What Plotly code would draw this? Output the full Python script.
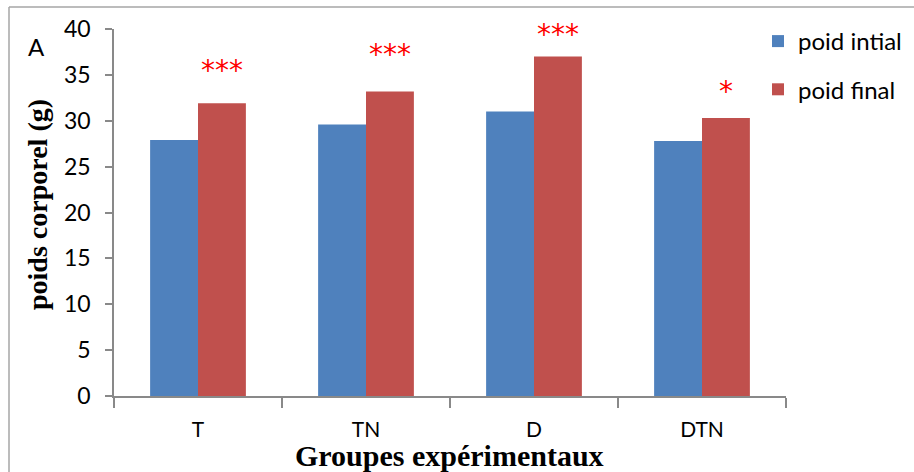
import plotly.graph_objects as go

groups = ["T", "TN", "D", "DTN"]
poid_initial = [27.9, 29.6, 31.0, 27.8]
poid_final = [31.9, 33.2, 37.0, 30.3]
signif = ["***", "***", "***", "*"]
star_gap_px = [37, 41, 27, 31]   # glyph centre above the final bar, in px

blue = "#4F81BD"
red = "#C0504D"
axis_grey = "#898989"

fig = go.Figure()
fig.add_trace(go.Bar(x=groups, y=poid_initial, name="poid intial",
                     marker=dict(color=blue, line=dict(width=0)),
                     legendgroup="a"))
fig.add_trace(go.Bar(x=groups, y=poid_final, name="poid final",
                     marker=dict(color=red, line=dict(width=0)),
                     legendgroup="b"))

W, H = 914, 472
L, R, T, B = 114, 128, 29, 76
pw, ph = W - L - R, H - T - B

def px_x(p):
    return (p - L) / pw

def px_y(p):
    return (H - B - p) / ph

annotations = []
for g, v, s, gap in zip(groups, poid_final, signif, star_gap_px):
    annotations.append(dict(x=g, y=v, xref="x", yref="y", text=s,
                            showarrow=False, xshift=24, yanchor="bottom",
                            yshift=gap - 23,
                            font=dict(family="DejaVu Sans", size=28, color="#FF0000")))

annotations += [
    dict(text="<b>Groupes expérimentaux</b>", xref="paper", yref="paper",
         x=px_x(449), y=px_y(455), xanchor="center", yanchor="middle",
         showarrow=False, font=dict(family="Liberation Serif", size=30, color="black")),
    dict(text="<b>poids corporel (g)</b>", xref="paper", yref="paper",
         x=px_x(37), y=px_y(205), xanchor="center", yanchor="middle",
         textangle=-90, showarrow=False,
         font=dict(family="Liberation Serif", size=28, color="black")),
    dict(text="A", xref="paper", yref="paper", x=px_x(36), y=px_y(47),
         xanchor="center", yanchor="middle", showarrow=False,
         font=dict(family="Lato", size=24, color="black")),
]

fig.update_layout(
    width=W, height=H,
    margin=dict(l=L, r=R, t=T, b=B, autoexpand=False),
    paper_bgcolor="white", plot_bgcolor="white",
    barmode="group", bargap=0.43, bargroupgap=0,
    font=dict(family="Lato", color="black"),
    showlegend=True,
    legend=dict(x=px_x(758), y=px_y(19), xanchor="left", yanchor="top",
                font=dict(family="Lato", size=24, color="black"),
                traceorder="grouped", tracegroupgap=14,
                bgcolor="rgba(0,0,0,0)"),
    annotations=annotations,
    shapes=[
        dict(type="line", xref="paper", yref="paper", x0=px_x(9), x1=px_x(9),
             y0=px_y(7), y1=px_y(480), line=dict(color="#A6A6A6", width=1.5)),
        dict(type="line", xref="paper", yref="paper", x0=px_x(9), x1=px_x(920),
             y0=px_y(7), y1=px_y(7), line=dict(color="#A6A6A6", width=1.5)),
    ],
)

fig.update_xaxes(showline=True, linecolor=axis_grey, linewidth=1.5,
                 ticks="outside", tickson="boundaries", ticklen=10,
                 tickcolor=axis_grey, tickwidth=1.5,
                 tickfont=dict(family="Lato", size=21, color="black"),
                 ticklabelstandoff=14, showgrid=False, zeroline=False)
fig.update_yaxes(range=[0, 40], dtick=5, showline=True, linecolor=axis_grey,
                 linewidth=1.5, ticks="outside", ticklen=7, tickcolor=axis_grey,
                 tickwidth=1.5, tickfont=dict(family="Lato", size=23, color="black"),
                 showgrid=False, zeroline=False, ticklabelstandoff=10)

fig.write_html("out.html",
               config={"displayModeBar": False},
               post_script="document.body.style.margin='0';"
                           "document.body.style.overflow='hidden';")
